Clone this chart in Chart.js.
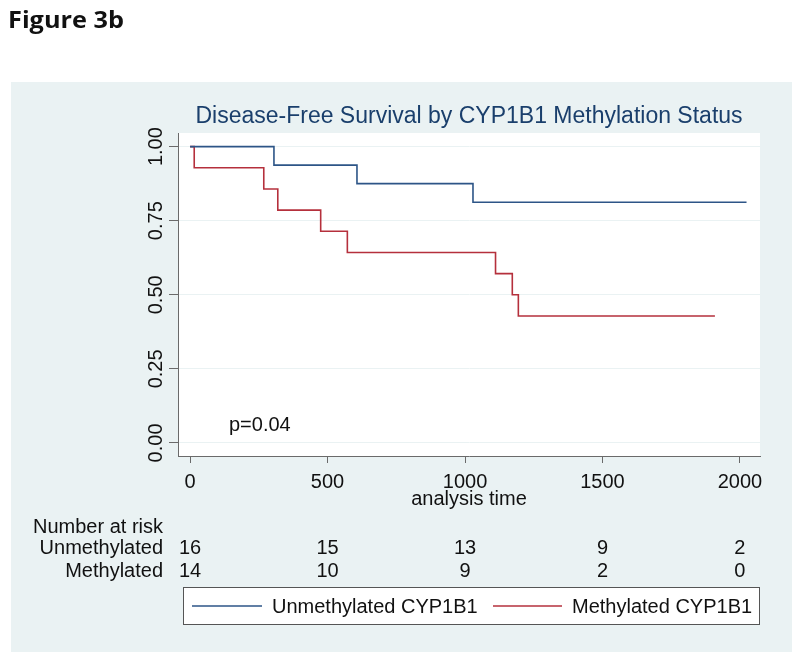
<!DOCTYPE html>
<html>
<head>
<meta charset="utf-8">
<script src="https://cdn.jsdelivr.net/npm/chart.js@4/dist/chart.umd.min.js"></script>
<style>
html,body{margin:0;padding:0;background:#fff;}
#c{display:block;}
</style>
</head>
<body>
<canvas id="c" width="800" height="660"></canvas>
<script>
// ---- data ----
const unmethTimes = [0, 305, 607, 1029, 2024];
const unmethSurv  = [1, 0.9375, 0.875, 0.8125, 0.8125];
const methTimes   = [0, 15, 268, 319, 475, 572, 1111, 1172, 1194, 1909];
const methSurv    = [1, 0.9286, 0.8571, 0.7857, 0.7143, 0.6429, 0.5714, 0.5, 0.4286, 0.4286];
const xTicks = [0, 500, 1000, 1500, 2000];
const yTicks = [0, 0.25, 0.5, 0.75, 1];
const yTickLabels = ['0.00', '0.25', '0.50', '0.75', '1.00'];
const riskGroups = ['Unmethylated', 'Methylated'];
const riskUnmeth = [16, 15, 13, 9, 2];
const riskMeth   = [14, 10, 9, 2, 0];
const seriesLabels = ['Unmethylated CYP1B1', 'Methylated CYP1B1'];
const titleText = 'Disease-Free Survival by CYP1B1 Methylation Status';
const pText = 'p=0.04';

const FAM = '"Liberation Sans", Arial, Helvetica, sans-serif';
const FS = 20;
const BLUE = '#2d5587';
const RED = '#b5303c';
const PANEL = '#eaf2f3';
const AXIS = '#6a6a6a';

function toXY(xs, ys){ return xs.map((x,i)=>({x:x, y:ys[i]})); }

function fitText(ctx, text, x, y, targetW, align){
  const w = ctx.measureText(text).width;
  const sx = targetW / w;
  ctx.save();
  ctx.translate(x, y);
  ctx.scale(sx, 1);
  ctx.textAlign = align || 'left';
  ctx.fillText(text, 0, 0);
  ctx.restore();
}

const bgPlugin = {
  id: 'bg',
  beforeDraw(chart){
    const {ctx, chartArea:a} = chart;
    ctx.save();
    ctx.fillStyle = '#ffffff';
    ctx.fillRect(0,0,chart.width,chart.height);
    ctx.fillStyle = PANEL;
    ctx.fillRect(11,82,781,570);
    ctx.fillStyle = '#ffffff';
    ctx.fillRect(a.left, a.top, a.right-a.left, a.bottom-a.top);
    ctx.restore();
  },
  afterDraw(chart){
    const {ctx, chartArea:a} = chart;
    const xs = chart.scales.x, ys = chart.scales.y;
    ctx.save();
    // Figure label
    ctx.fillStyle = '#111';
    ctx.font = 'bold 23px "Open Sans", ' + FAM;
    ctx.textBaseline = 'alphabetic';
    fitText(ctx, 'Figure 3b', 8, 28, 116, 'left');
    // Title
    ctx.fillStyle = '#1a3f6c';
    ctx.font = '23px ' + FAM;
    ctx.textAlign = 'center';
    ctx.fillText(titleText, (a.left + a.right)/2, 123);
    // y tick labels rotated
    ctx.fillStyle = '#111';
    ctx.font = FS + 'px ' + FAM;
    yTicks.forEach((v,i)=>{
      const py = ys.getPixelForValue(v);
      ctx.save();
      ctx.translate(162, py);
      ctx.rotate(-Math.PI/2);
      ctx.textAlign = 'center';
      ctx.textBaseline = 'alphabetic';
      ctx.fillText(yTickLabels[i], 0, 0);
      ctx.restore();
    });
    // p value
    ctx.textAlign = 'left';
    ctx.fillText(pText, 229, 431);
    // number at risk
    ctx.fillText('Number at risk', 33, 533);
    ctx.textAlign = 'right';
    ctx.fillText(riskGroups[0], 163, 554);
    ctx.fillText(riskGroups[1], 163, 577);
    ctx.textAlign = 'center';
    xTicks.forEach((t,i)=>{
      const px = xs.getPixelForValue(t);
      ctx.fillText(String(riskUnmeth[i]), px, 554);
      ctx.fillText(String(riskMeth[i]), px, 577);
    });
    // legend box
    ctx.fillStyle = '#ffffff';
    ctx.fillRect(183.5, 587.5, 576, 37);
    ctx.strokeStyle = '#555';
    ctx.lineWidth = 1;
    ctx.strokeRect(183.5, 587.5, 576, 37);
    const ds = chart.data.datasets;
    const items = [{x1:192, x2:262, tx:272}, {x1:493, x2:562, tx:572}];
    items.forEach((it,i)=>{
      ctx.strokeStyle = ds[i].borderColor;
      ctx.lineWidth = 1.5;
      ctx.beginPath();
      ctx.moveTo(it.x1, 606);
      ctx.lineTo(it.x2, 606);
      ctx.stroke();
      ctx.fillStyle = '#111';
      ctx.textAlign = 'left';
      ctx.fillText(ds[i].label, it.tx, 613);
    });
    ctx.restore();
  }
};

new Chart(document.getElementById('c'), {
  type: 'line',
  data: {
    datasets: [
      {label: seriesLabels[0], data: toXY(unmethTimes, unmethSurv), borderColor: BLUE, borderWidth: 1.6, stepped: true, pointRadius: 0, fill: false},
      {label: seriesLabels[1], data: toXY(methTimes, methSurv), borderColor: RED, borderWidth: 1.6, stepped: true, pointRadius: 0, fill: false}
    ]
  },
  options: {
    responsive: false,
    animation: false,
    devicePixelRatio: 1,
    layout: {padding: {left: 0, right: 40, top: 133, bottom: 144}},
    plugins: {legend: {display: false}, title: {display: false}, tooltip: {enabled: false}},
    scales: {
      x: {
        type: 'linear', min: -44, max: 2073,
        afterBuildTicks: s => { s.ticks = xTicks.map(v => ({value: v})); },
        afterFit: s => { s.height = 60; },
        grid: {drawOnChartArea: false, tickLength: 7, tickColor: AXIS, color: AXIS},
        border: {color: AXIS, width: 1},
        ticks: {font: {size: FS, family: FAM}, color: '#111', padding: 7, maxRotation: 0, autoSkip: false, callback: v => String(v)},
        title: {display: true, text: 'analysis time', font: {size: FS, family: FAM}, color: '#111', padding: {top: 0, bottom: 5}}
      },
      y: {
        type: 'linear', min: -0.044, max: 1.046,
        afterBuildTicks: s => { s.ticks = yTicks.map(v => ({value: v})); },
        afterFit: s => { s.width = 178; },
        grid: {color: PANEL, tickColor: AXIS, tickLength: 9, lineWidth: 1},
        border: {color: AXIS, width: 1},
        ticks: {display: false}
      }
    }
  },
  plugins: [bgPlugin]
});
</script>
</body>
</html>
